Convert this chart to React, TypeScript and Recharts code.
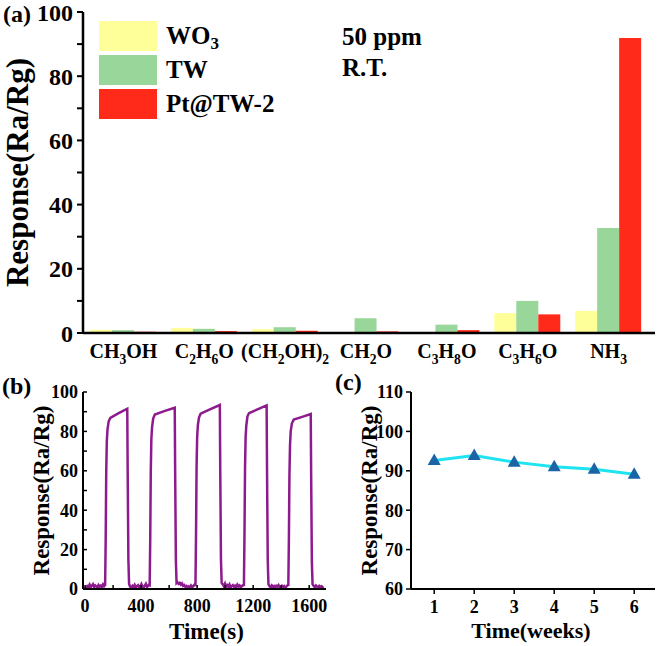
import React from 'react';
import { BarChart, Bar, LineChart, Line, XAxis, YAxis, Legend } from 'recharts';

const FONT = '"Liberation Serif", "Times New Roman", Times, serif';

// (a) response of the three sensors to 50 ppm of each gas at room temperature
const gases = ['CH3OH', 'C2H6O', '(CH2OH)2', 'CH2O', 'C3H8O', 'C3H6O', 'NH3'];
const wo3Resp = [1.0, 1.6, 1.2, 0.3, 0.3, 6.2, 6.9];
const twResp = [0.9, 1.3, 1.8, 4.6, 2.6, 10.0, 32.7];
const ptResp = [0.4, 0.6, 0.7, 0.5, 0.9, 5.8, 91.9];
const seriesNames = ['WO3', 'TW', 'Pt@TW-2'];
const seriesColors = ['#FFFF99', '#99D699', '#FF2A1A'];
const ticksA = [0, 10, 20, 30, 40, 50, 60, 70, 80, 90, 100];

// (b) five response/recovery cycles to NH3, [time s, response]
const base0 = [[0, 1.2], [8, 0.6], [16, 1.5], [24, 1.1], [32, 2.2], [40, 0.9], [48, 1.6], [56, 2.4], [64, 1.0], [72, 1.8], [80, 1.3], [88, 0.7], [96, 2.0], [104, 1.2], [112, 1.7], [120, 0.9], [128, 2.3], [136, 1.4]];
const pulse1 = [[143, 2.0], [147, 25], [151, 60], [155, 75], [160, 81], [168, 85], [180, 86.9], [240, 89.3], [301, 91.5], [304, 60], [309, 15], [314, 2.5]];
const base1 = [[322, 1.1], [330, 0.7], [338, 1.6], [346, 1.0], [354, 2.1], [362, 0.8], [370, 1.4], [378, 1.9], [386, 0.9], [394, 1.3], [402, 2.5], [410, 1.2], [418, 0.8], [426, 1.7], [434, 2.6], [442, 1.0], [450, 1.5], [456, 2.2]];
const pulse2 = [[461, 2.0], [465, 25], [469, 60], [473, 76], [478, 82], [486, 86.5], [498, 88.6], [570, 90.4], [640, 92.0], [643, 60], [648, 15], [653, 3.0]];
const base2 = [[660, 3.4], [668, 2.6], [676, 3.1], [684, 2.2], [692, 2.8], [700, 1.6], [708, 2.0], [716, 1.1], [724, 1.5], [732, 0.8], [740, 1.3], [748, 0.9], [756, 1.8], [764, 1.0], [772, 1.4], [780, 2.1]];
const pulse3 = [[788, 2.0], [792, 28], [796, 62], [800, 77], [805, 83], [813, 87], [825, 89.0], [895, 91.3], [962, 93.4], [965, 60], [970, 15], [975, 3.0]];
const base3 = [[983, 2.4], [991, 1.3], [999, 2.7], [1007, 1.0], [1015, 1.9], [1023, 1.2], [1031, 2.3], [1039, 0.8], [1047, 1.5], [1055, 2.0], [1063, 1.1], [1071, 1.7], [1079, 0.9], [1087, 2.2], [1095, 1.3], [1103, 1.8], [1111, 0.8], [1119, 1.4], [1127, 1.9]];
const pulse4 = [[1134, 2.0], [1138, 28], [1142, 62], [1146, 77], [1151, 83], [1159, 87.5], [1170, 89.3], [1235, 91.3], [1296, 93.2], [1299, 60], [1304, 15], [1309, 2.5]];
const base4 = [[1317, 1.4], [1325, 0.9], [1333, 1.8], [1341, 1.1], [1349, 1.5], [1357, 0.8], [1365, 1.6], [1373, 1.2], [1381, 2.0], [1389, 0.9], [1397, 1.3], [1405, 1.7], [1413, 1.0], [1421, 1.5], [1429, 0.8], [1437, 1.2], [1445, 1.9]];
const pulse5 = [[1451, 2.0], [1455, 25], [1459, 58], [1463, 73], [1468, 80], [1476, 84], [1490, 86.0], [1550, 87.4], [1611, 88.8], [1614, 58], [1619, 14], [1624, 2.5]];
const base5 = [[1632, 1.5], [1640, 1.0], [1648, 1.8], [1656, 1.2], [1664, 0.8], [1672, 1.6], [1680, 1.1], [1688, 1.4], [1696, 0.9], [1702, 1.3]];
const ticksBx = [0, 200, 400, 600, 800, 1000, 1200, 1400, 1600];
const ticksBy = [0, 10, 20, 30, 40, 50, 60, 70, 80, 90, 100];

// (c) stability over six weeks
const weeks = [1, 2, 3, 4, 5, 6];
const stability = [92.6, 93.9, 92.2, 91.0, 90.4, 89.1];
const ticksCy = [60, 70, 80, 90, 100, 110];

const barData = gases.map((gas, i) => ({ gas, wo3: wo3Resp[i], tw: twResp[i], pt: ptResp[i] }));
const cycleData = [base0, pulse1, base1, pulse2, base2, pulse3, base3, pulse4, base4, pulse5, base5]
  .flat()
  .map(([t, v]) => ({ t, v }));
const stabData = weeks.map((w, i) => ({ w, v: stability[i] }));

// digits after a letter or ')' are subscripts
function splitFormula(text: string) {
  return text.split(/(?<=[A-Za-z)])(\d+)/).map((p, i) => ({ p, sub: i % 2 === 1 })).filter((s) => s.p);
}

function svgFormula(text: string, size: number) {
  const shift = size * 0.28;
  let down = false;
  return splitFormula(text).map((s, i) => {
    let dy = 0;
    if (s.sub && !down) { dy = shift; down = true; }
    else if (!s.sub && down) { dy = -shift; down = false; }
    return (
      <tspan key={i} dy={dy} fontSize={s.sub ? size * 0.68 : size}>
        {s.p}
      </tspan>
    );
  });
}

const GasTick = (props: any) => {
  const { x, y, payload } = props;
  return (
    <text x={x} y={y + 17} textAnchor="middle" fontFamily={FONT} fontWeight={700} fontSize={20} fill="#000">
      {svgFormula(payload.value, 20)}
    </text>
  );
};

const legendContent = (props: any) => {
  const items = [...(props.payload || [])].sort(
    (a: any, b: any) => seriesNames.indexOf(a.value) - seriesNames.indexOf(b.value)
  );
  return (
    <div style={{ fontFamily: FONT, fontWeight: 700, fontSize: 25, color: '#000' }}>
      {items.map((e: any, i: number) => (
        <div key={i} style={{ display: 'flex', alignItems: 'center', height: 30, marginBottom: 4 }}>
          <div style={{ width: 58, height: 30, background: e.color }} />
          <span style={{ marginLeft: 9, lineHeight: '30px', whiteSpace: 'nowrap' }}>
            {splitFormula(e.value).map((s, j) =>
              s.sub ? (
                <sub key={j} style={{ fontSize: '0.68em', verticalAlign: '-0.3em', lineHeight: 0 }}>{s.p}</sub>
              ) : (
                <span key={j}>{s.p}</span>
              )
            )}
          </span>
        </div>
      ))}
    </div>
  );
};

const yTitle = (offset: number, size: number) => (props: any) => {
  const vb = props.viewBox;
  const x = vb.x + offset;
  const y = vb.y + vb.height / 2;
  return (
    <text x={x} y={y} transform={`rotate(-90, ${x}, ${y})`} textAnchor="middle" dominantBaseline="central"
      fontFamily={FONT} fontWeight={700} fontSize={size} fill="#000">
      Response(Ra/Rg)
    </text>
  );
};

const xTitle = (text: string, dx: number, dy: number, size: number) => (props: any) => {
  const vb = props.viewBox;
  return (
    <text x={vb.x + vb.width / 2 + dx} y={vb.y + dy} textAnchor="middle" fontFamily={FONT} fontWeight={700}
      fontSize={size} fill="#000">
      {text}
    </text>
  );
};

const TriangleDot = (props: any) => {
  const { cx, cy } = props;
  if (cx == null || cy == null) return null;
  return <polygon points={`${cx},${cy - 7} ${cx - 6.5},${cy + 4.5} ${cx + 6.5},${cy + 4.5}`} fill="#1B65A6" />;
};

const tickFont = (size: number) => ({ fontSize: size, fontWeight: 700, fill: '#000', fontFamily: FONT });
const frame = (w: number) => ({ stroke: '#000', strokeWidth: w });

export default function App() {
  return (
    <div style={{ position: 'absolute', left: 0, top: 0, width: 661, height: 646, background: '#fff' }}>
      <div style={{ position: 'absolute', left: 0, top: 0 }}>
        <BarChart width={661} height={380} data={barData} margin={{ top: 12, right: 6, bottom: 0, left: 0 }}
          barGap={0}>
          <XAxis dataKey="gas" height={47} tick={<GasTick />} tickLine={false} tickSize={6} tickMargin={2}
            interval={0} padding={{ left: 0, right: 6 }} axisLine={frame(2.5)} />
          <XAxis xAxisId="top" dataKey="gas" orientation="top" height={0} tick={false} tickLine={false}
            axisLine={frame(2.5)} />
          <YAxis width={83} domain={[0, 100]} ticks={ticksA} interval={0} tick={tickFont(24)}
            tickFormatter={(v: number) => (v % 20 === 0 ? String(v) : '')} tickSize={6} tickMargin={4}
            tickLine={frame(2)} axisLine={frame(2.5)} label={{ content: yTitle(17, 31) }} />
          <YAxis yAxisId="right" orientation="right" width={0} tick={false} tickLine={false}
            axisLine={frame(2.5)} />
          <Legend layout="vertical" align="center" verticalAlign="middle" wrapperStyle={{ left: 99, top: 21 }}
            content={legendContent} />
          <Bar dataKey="wo3" name={seriesNames[0]} fill={seriesColors[0]} barSize={22} isAnimationActive={false} />
          <Bar dataKey="tw" name={seriesNames[1]} fill={seriesColors[1]} barSize={22} isAnimationActive={false} />
          <Bar dataKey="pt" name={seriesNames[2]} fill={seriesColors[2]} barSize={22} isAnimationActive={false} />
        </BarChart>
      </div>

      <div style={{ position: 'absolute', left: 0, top: 360 }}>
        <LineChart width={330} height={286} data={cycleData} margin={{ top: 32, right: 4, bottom: 0, left: 0 }}>
          <XAxis dataKey="t" type="number" domain={[-15, 1720]} ticks={ticksBx} interval={0} height={57}
            tick={tickFont(18)} tickFormatter={(v: number) => (v % 400 === 0 ? String(v) : '')}
            tickSize={-4} tickMargin={14} tickLine={frame(1.5)} axisLine={frame(2)}
            label={{ content: xTitle('Time(s)', 2, 50, 23) }} />
          <XAxis xAxisId="top" dataKey="t" type="number" domain={[-15, 1720]} orientation="top" height={0}
            tick={false} tickLine={false} axisLine={frame(2)} />
          <YAxis width={83} domain={[0, 100]} ticks={ticksBy} interval={0} tick={tickFont(18)}
            tickFormatter={(v: number) => (v % 20 === 0 ? String(v) : '')} tickSize={-4} tickMargin={9}
            tickLine={frame(1.5)} axisLine={frame(2)} label={{ content: yTitle(41, 23) }} />
          <YAxis yAxisId="right" orientation="right" width={0} tick={false} tickLine={false} axisLine={frame(2)} />
          <Line dataKey="v" type="linear" stroke="#8E1B8E" strokeWidth={2.5} dot={false} isAnimationActive={false} />
        </LineChart>
      </div>

      <div style={{ position: 'absolute', left: 330, top: 360 }}>
        <LineChart width={331} height={286} data={stabData} margin={{ top: 32, right: 6, bottom: 0, left: 0 }}>
          <XAxis dataKey="w" type="number" domain={[0.42, 6.52]} ticks={weeks} interval={0} height={57}
            tick={tickFont(18)} tickSize={5} tickMargin={6} tickLine={frame(1.5)} axisLine={frame(2)}
            label={{ content: xTitle('Time(weeks)', -2, 49, 22) }} />
          <XAxis xAxisId="top" dataKey="w" type="number" domain={[0.42, 6.52]} orientation="top" height={0}
            tick={false} tickLine={false} axisLine={frame(2)} />
          <YAxis width={81} domain={[60, 110]} ticks={ticksCy} interval={0} tick={tickFont(18)} tickSize={5}
            tickMargin={3} tickLine={frame(1.5)} axisLine={frame(2)} label={{ content: yTitle(39, 23) }} />
          <YAxis yAxisId="right" orientation="right" width={0} tick={false} tickLine={false} axisLine={frame(2)} />
          <Line dataKey="v" type="linear" stroke="#1EE3F0" strokeWidth={3} dot={<TriangleDot />}
            isAnimationActive={false} />
        </LineChart>
      </div>

      <svg width={661} height={646} style={{ position: 'absolute', left: 0, top: 0, pointerEvents: 'none' }}
        fontFamily={FONT} fontWeight={700} fill="#000">
        <text x={3} y={22} fontSize={24}>(a)</text>
        <text x={342} y={45} fontSize={25}>50 ppm</text>
        <text x={342} y={76} fontSize={25}>R.T.</text>
        <text x={2} y={394} fontSize={24}>(b)</text>
        <text x={335} y={390} fontSize={24}>(c)</text>
      </svg>
    </div>
  );
}
